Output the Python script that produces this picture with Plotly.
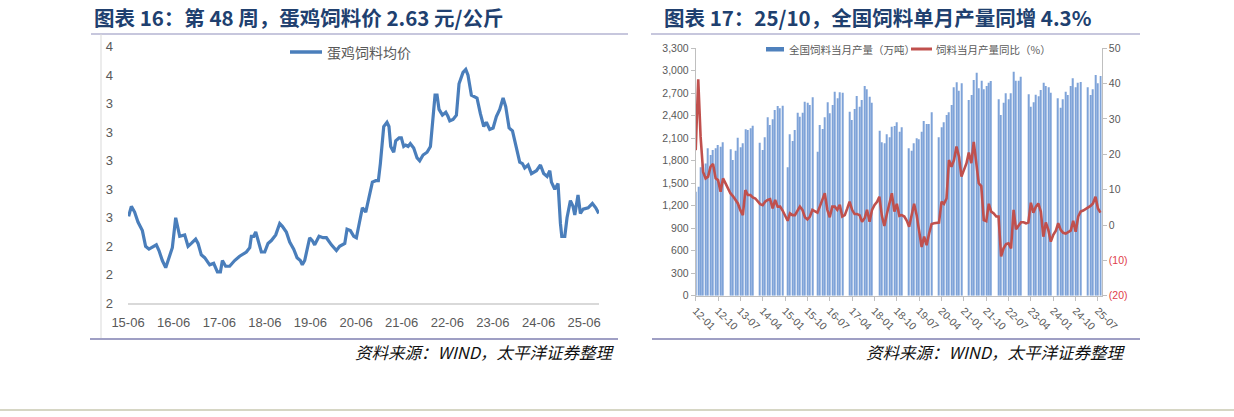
import pandas as pd
import plotly.graph_objects as go

# ---------- 图表16：蛋鸡饲料均价（元/公斤，周度） ----------
egg_feed_dates = [
    "2015-06-06", "2015-06-28", "2015-07-24", "2015-08-20", "2015-09-24", "2015-10-20",
    "2015-11-16", "2016-01-14", "2016-02-04", "2016-03-02", "2016-03-29", "2016-04-30",
    "2016-05-21", "2016-06-17", "2016-07-05", "2016-07-19", "2016-08-28", "2016-09-24",
    "2016-10-20", "2016-11-24", "2016-12-13", "2017-01-08", "2017-02-04", "2017-03-16",
    "2017-04-17", "2017-05-03", "2017-05-17", "2017-06-10", "2017-06-26", "2017-07-22",
    "2017-08-23", "2017-10-02", "2017-11-11", "2018-01-04", "2018-01-31", "2018-02-13",
    "2018-03-04", "2018-03-20", "2018-04-07", "2018-05-04", "2018-05-31", "2018-06-26",
    "2018-07-23", "2018-08-27", "2018-09-28", "2018-10-19", "2018-11-20", "2018-12-17",
    "2019-01-18", "2019-02-14", "2019-03-12", "2019-03-28", "2019-04-16", "2019-05-26",
    "2019-06-16", "2019-07-05", "2019-08-09", "2019-09-10", "2019-10-07", "2019-11-16",
    "2019-12-26", "2020-01-21", "2020-03-02", "2020-03-20", "2020-04-16", "2020-05-13",
    "2020-06-03", "2020-06-24", "2020-07-21", "2020-08-17", "2020-09-12", "2020-10-09",
    "2020-11-05", "2020-11-26", "2020-12-12", "2020-12-28", "2021-01-08", "2021-02-03",
    "2021-02-19", "2021-03-05", "2021-03-29", "2021-04-14", "2021-05-11", "2021-05-29",
    "2021-06-17", "2021-07-03", "2021-07-22", "2021-08-09", "2021-09-05", "2021-10-02",
    "2021-10-23", "2021-11-19", "2021-12-21", "2022-01-17", "2022-02-07", "2022-02-23",
    "2022-03-11", "2022-03-27", "2022-04-23", "2022-05-20", "2022-06-07", "2022-06-21",
    "2022-07-17", "2022-08-13", "2022-09-03", "2022-10-05", "2022-10-27", "2022-11-14",
    "2022-12-11", "2023-01-07", "2023-01-25", "2023-02-21", "2023-03-20", "2023-04-10",
    "2023-05-07", "2023-06-03", "2023-06-29", "2023-07-26", "2023-08-22", "2023-09-12",
    "2023-10-09", "2023-11-05", "2023-12-07", "2024-01-02", "2024-01-24", "2024-02-11",
    "2024-03-09", "2024-04-05", "2024-05-15", "2024-06-16", "2024-07-12", "2024-08-08",
    "2024-08-30", "2024-09-12", "2024-10-09", "2024-11-04", "2024-11-23", "2024-12-04",
    "2024-12-28", "2025-01-15", "2025-02-11", "2025-03-04", "2025-03-18", "2025-04-13",
    "2025-05-02", "2025-05-24", "2025-07-03", "2025-08-06", "2025-09-02", "2025-09-26",
]
egg_feed_price = [
    2.61, 2.68, 2.64, 2.57, 2.51, 2.40,
    2.38, 2.41, 2.37, 2.30, 2.25, 2.33,
    2.39, 2.60, 2.53, 2.47, 2.48, 2.40,
    2.42, 2.45, 2.42, 2.34, 2.32, 2.27,
    2.28, 2.25, 2.22, 2.22, 2.30, 2.26,
    2.26, 2.30, 2.33, 2.36, 2.39, 2.47,
    2.47, 2.50, 2.44, 2.36, 2.36, 2.42,
    2.44, 2.48, 2.56, 2.54, 2.50, 2.43,
    2.38, 2.32, 2.30, 2.27, 2.30, 2.46,
    2.44, 2.41, 2.47, 2.46, 2.46, 2.41,
    2.37, 2.40, 2.42, 2.52, 2.51, 2.47,
    2.46, 2.56, 2.67, 2.64, 2.75, 2.85,
    2.86, 2.86, 2.98, 3.12, 3.24, 3.27,
    3.24, 3.10, 3.06, 3.14, 3.16, 3.16,
    3.10, 3.11, 3.10, 3.12, 3.09, 3.02,
    3.00, 3.04, 3.06, 3.10, 3.34, 3.46,
    3.46, 3.36, 3.32, 3.34, 3.31, 3.28,
    3.29, 3.32, 3.54, 3.62, 3.64, 3.60,
    3.46, 3.45, 3.44, 3.33, 3.24, 3.27,
    3.22, 3.23, 3.31, 3.36, 3.44, 3.38,
    3.23, 3.21, 3.09, 2.99, 2.98, 2.95,
    2.97, 2.91, 2.93, 2.97, 2.91, 2.89,
    2.93, 2.85, 2.80, 2.84, 2.56, 2.47,
    2.47, 2.60, 2.72, 2.68, 2.62, 2.76,
    2.63, 2.66, 2.67, 2.70, 2.67, 2.63,
]

# ---------- 图表17：全国饲料当月产量（万吨）与同比（%） ----------
feed_start = "2012-01-01"
output_2012 = [1387, 1454, 1712, 1750, 1765, 1966, 1877, 1943, 1966, 2010, 1988, 2046]
output_2013 = [None, None, 1952, 1810, 1934, 2108, 1979, 2032, 2219, 2210, 2232, 2268]
output_2014 = [None, None, 2041, 1943, 2112, 2379, 2277, 2352, 2477, 2530, 2499, 2535]
output_2015 = [None, 1712, 2152, 2063, 2210, 2441, 2388, 2441, 2588, 2575, 2544, 2646]
output_2016 = [None, 1921, 2277, 2224, 2379, 2579, 2432, 2544, 2722, 2633, 2713, 2708]
output_2017 = [None, None, 2455, 2344, 2490, 2664, 2521, 2610, 2797, 2753, 2655, 2575]
output_2018 = [None, None, 2201, 2046, 2032, 2152, 2112, 2255, 2263, 2312, 2188, 2246]
output_2019 = [None, None, 1966, 1934, 2032, 2099, 2086, 2188, 2330, 2290, 2290, 2446]
output_2020 = [None, None, 2112, 2246, 2312, 2410, 2446, 2544, 2779, 2846, 2735, 2833]
output_2021 = [None, None, 2610, 2677, 2877, 2975, 2766, 2868, 2753, 2797, 2842, 2864]
output_2022 = [None, None, 2619, 2410, 2575, 2699, 2619, 2699, 2988, 2868, 2868, 2922]
output_2023 = [None, None, 2686, 2521, 2580, 2680, 2660, 2744, 2842, 2797, 2779, 2708]
output_2024 = [None, None, 2633, 2508, 2619, 2722, 2677, 2797, 2900, 2780, 2840, 2850]
output_2025 = [None, None, 2779, 2677, 2753, 2944, 2833, 2930]

yoy_2012 = [21.2, 41.2, 25.0, 15.0, 13.2, 13.7, 16.5, 17.3, 13.2, 12.7, 9.4, 13.2]
yoy_2013 = [11.8, 10.4, 9.0, 8.2, 7.1, 6.1, 4.2, 2.8, 9.9, 8.5, 8.5, 7.8]
yoy_2014 = [7.5, 6.6, 5.9, 5.6, 6.6, 7.1, 7.3, 4.7, 7.1, 5.2, 5.2, 4.1]
yoy_2015 = [2.4, 1.2, 3.3, 2.8, 2.8, 4.1, 5.2, 4.3, 2.2, 1.6, 2.4, 4.3]
yoy_2016 = [3.8, 3.5, 5.2, 6.9, 9.0, 4.3, 2.2, 5.2, 5.2, 4.3, 5.7, 2.4]
yoy_2017 = [2.8, 4.7, 6.6, 4.3, 3.1, 3.1, 2.8, 0.9, 1.9, 4.3, 0.9, 4.3]
yoy_2018 = [5.7, 6.6, 8.0, 2.6, -0.3, 3.1, 5.7, 9.0, 3.8, 6.0, 2.6, 2.8]
yoy_2019 = [2.4, 1.2, -0.5, 2.4, 6.0, 2.8, -2.4, -6.2, -3.3, -5.7, -2.4, 0.3]
yoy_2020 = [0.5, 0.5, 0.7, 6.6, 6.0, 7.5, 18.4, 16.5, 18.4, 22.2, 19.3, 13.7]
yoy_2021 = [15.6, 17.5, 20.5, 17.5, 23.5, 18.0, 11.8, 11.0, 1.4, 1.1, 6.0, 3.8]
yoy_2022 = [3.3, 2.4, 2.4, -8.9, -6.6, -5.4, -5.2, -6.6, 4.3, -1.2, 0.0, 0.8]
yoy_2023 = [0.8, 0.5, 0.7, 6.3, 3.5, 5.2, 6.1, 3.8, -3.3, 0.7, -1.4, -4.7]
yoy_2024 = [-2.8, -1.6, 0.5, -1.4, -2.2, -2.4, -2.0, -1.6, 1.2, -1.9, 2.4, 3.8]
yoy_2025 = [4.1, 4.5, 4.8, 5.4, 6.1, 8.0, 4.7, 3.5]

yoy_ticks = [-20, -10, 0, 10, 20, 30, 40, 50]
yoy_labels = ['<span style="color:#e0404a">(20)</span>',
              '<span style="color:#e0404a">(10)</span>',
              "0", "10", "20", "30", "40", "50"]

feed_output = (output_2012 + output_2013 + output_2014 + output_2015 + output_2016
               + output_2017 + output_2018 + output_2019 + output_2020 + output_2021
               + output_2022 + output_2023 + output_2024 + output_2025)
feed_yoy = (yoy_2012 + yoy_2013 + yoy_2014 + yoy_2015 + yoy_2016 + yoy_2017
            + yoy_2018 + yoy_2019 + yoy_2020 + yoy_2021 + yoy_2022 + yoy_2023
            + yoy_2024 + yoy_2025)
feed_months = pd.date_range(feed_start, periods=len(feed_output), freq="MS")

W, H = 1234, 417


def px(x):
    return x / W


def py(y):
    return 1 - y / H


CJK = "Noto Sans CJK SC"
NUM = "Liberation Sans"
GREY = "#595959"
NAVY = "#20406f"
BLUE = "#4a7ebb"
RED = "#c0504d"

fig = go.Figure()
fig.add_trace(go.Scatter(
    x=egg_feed_dates, y=egg_feed_price, mode="lines",
    line=dict(color=BLUE, width=3.2), xaxis="x", yaxis="y",
    name="蛋鸡饲料均价", showlegend=False,
))
fig.add_trace(go.Bar(
    x=feed_months, y=feed_output, xaxis="x2", yaxis="y2",
    marker=dict(color="#7ea3d8", line=dict(width=0)),
    width=13 * 86400000, name="全国饲料当月产量（万吨）", showlegend=False,
))
fig.add_trace(go.Scatter(
    x=feed_months, y=feed_yoy, mode="lines", xaxis="x2", yaxis="y3",
    line=dict(color=RED, width=2.6), name="饲料当月产量同比（%）", showlegend=False,
))

fig.update_layout(
    template="none",
    width=W, height=H,
    margin=dict(l=0, r=0, t=0, b=0, autoexpand=False),
    paper_bgcolor="white", plot_bgcolor="rgba(0,0,0,0)",
    font=dict(family=NUM, color=GREY),
    xaxis=dict(
        type="date", domain=[px(128), px(599)], anchor="y", automargin=False,
        range=["2015-06-01", "2025-09-28"],
        tick0="2015-06-01", dtick="M12", tickformat="%y-%m",
        showgrid=False, zeroline=False, showline=True,
        linecolor="#d9d9d9", linewidth=1.5, ticks="",
        tickfont=dict(size=13, color=GREY, family=NUM),
        ticklabelstandoff=6,
    ),
    yaxis=dict(
        domain=[py(303.3), py(46.7)], anchor="x", automargin=False,
        range=[2.0, 3.8], tick0=2.0, dtick=0.2, tickformat=".0f",
        showgrid=False, zeroline=False, showline=False, ticks="",
        tickfont=dict(size=13, color=GREY, family=NUM),
        ticklabelstandoff=14,
    ),
    xaxis2=dict(
        type="date", domain=[px(695.7), px(1101.7)], anchor="y2", automargin=False,
        range=["2012-01-01", "2025-08-16"],
        tick0="2012-01-01", dtick="M9", tickformat="%y-%m", tickangle=45,
        showgrid=False, zeroline=False, showline=True,
        linecolor="#bfbfbf", linewidth=1, ticks="outside", ticklen=4,
        tickcolor="#bfbfbf",
        tickfont=dict(size=10.5, color=GREY, family=NUM),
    ),
    yaxis2=dict(
        domain=[py(295.7), py(48.3)], anchor="x2", automargin=False,
        range=[0, 3300], dtick=300, tickformat=",",
        showgrid=False, zeroline=False, showline=True,
        linecolor="#bfbfbf", ticks="outside", ticklen=4, tickcolor="#bfbfbf",
        tickfont=dict(size=10.5, color=GREY, family=NUM),
    ),
    yaxis3=dict(
        overlaying="y2", side="right", anchor="x2", automargin=False,
        range=[-20, 50], tickvals=yoy_ticks, ticktext=yoy_labels,
        showgrid=False, zeroline=False, showline=True,
        linecolor="#bfbfbf", ticks="outside", ticklen=4, tickcolor="#bfbfbf",
        tickfont=dict(size=10.5, color=GREY, family=NUM),
    ),
    bargap=0.5,
)

# titles
fig.add_annotation(x=px(92), y=py(17), xref="paper", yref="paper",
                   xanchor="left", yanchor="middle", showarrow=False,
                   text="<b>图表 16：第 48 周，蛋鸡饲料价 2.63 元/公斤</b>",
                   font=dict(family=CJK, size=20.5, color=NAVY))
fig.add_annotation(x=px(662), y=py(17), xref="paper", yref="paper",
                   xanchor="left", yanchor="middle", showarrow=False,
                   text="<b>图表 17：25/10，全国饲料单月产量同增 4.3%</b>",
                   font=dict(family=CJK, size=20.5, color=NAVY))

# sources
for xr in (617, 1128):
    fig.add_annotation(x=px(xr), y=py(352), xref="paper", yref="paper",
                       xanchor="right", yanchor="middle", showarrow=False,
                       text="资料来源：WIND，太平洋证券整理",
                       font=dict(family=CJK, size=16.5, color="#111111", style="italic"))

# legends
fig.add_shape(type="line", xref="paper", yref="paper",
              x0=px(290), x1=px(322), y0=py(52), y1=py(52),
              line=dict(color=BLUE, width=3.5))
fig.add_annotation(x=px(325), y=py(52), xref="paper", yref="paper",
                   xanchor="left", yanchor="middle", showarrow=False,
                   text="蛋鸡饲料均价", font=dict(family=CJK, size=14, color=GREY))
fig.add_shape(type="rect", xref="paper", yref="paper",
              x0=px(766), x1=px(784), y0=py(51.5), y1=py(47),
              fillcolor="#4f81bd", line=dict(width=0))
fig.add_annotation(x=px(787), y=py(49), xref="paper", yref="paper",
                   xanchor="left", yanchor="middle", showarrow=False,
                   text="全国饲料当月产量（万吨）", font=dict(family=CJK, size=10.5, color=GREY))
fig.add_shape(type="line", xref="paper", yref="paper",
              x0=px(911), x1=px(932), y0=py(49), y1=py(49),
              line=dict(color=RED, width=3))
fig.add_annotation(x=px(934), y=py(49), xref="paper", yref="paper",
                   xanchor="left", yanchor="middle", showarrow=False,
                   text="饲料当月产量同比（%）", font=dict(family=CJK, size=10.5, color=GREY))

# panel frames
frame = "#b4b4d2"
fig.add_shape(type="line", xref="paper", yref="paper",
              x0=px(91), x1=px(628), y0=py(34), y1=py(34), line=dict(color=frame, width=1.5))
fig.add_shape(type="line", xref="paper", yref="paper",
              x0=px(101), x1=px(101), y0=py(34), y1=py(338), line=dict(color="#d9d9d9", width=1))
fig.add_shape(type="line", xref="paper", yref="paper",
              x0=px(90), x1=px(618), y0=py(339), y1=py(339), line=dict(color="#7f7fb0", width=1.5))
fig.add_shape(type="line", xref="paper", yref="paper",
              x0=px(651), x1=px(1140), y0=py(34), y1=py(34), line=dict(color=frame, width=1.5))
fig.add_shape(type="line", xref="paper", yref="paper",
              x0=px(652), x1=px(1140), y0=py(339), y1=py(339), line=dict(color="#7f7fb0", width=1.5))
fig.add_shape(type="line", xref="paper", yref="paper",
              x0=0, x1=1, y0=py(410), y1=py(410), line=dict(color="#c8c8b0", width=1.5))

fig.write_html("out.html", config={"displayModeBar": False},
               post_script="document.body.style.margin='0';")
